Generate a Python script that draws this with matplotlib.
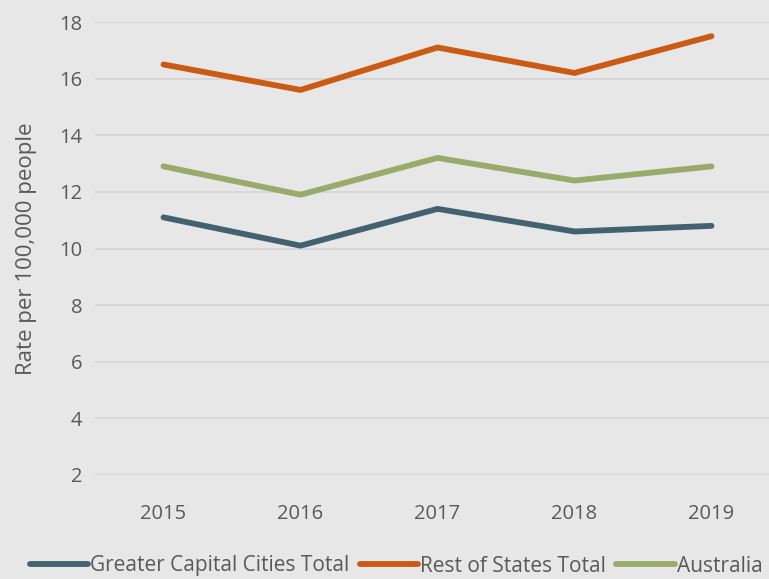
import matplotlib
matplotlib.use("Agg")
import matplotlib.pyplot as plt

years = ["2015", "2016", "2017", "2018", "2019"]
capital = [11.1, 10.1, 11.4, 10.6, 10.8]
rest = [16.5, 15.6, 17.1, 16.2, 17.5]
australia = [12.9, 11.9, 13.2, 12.4, 12.9]
yticks = [2, 4, 6, 8, 10, 12, 14, 16, 18]

bg = "#e7e7e7"
txt = "#595959"
plt.rcParams["font.family"] = ["Open Sans", "DejaVu Sans"]

fig = plt.figure(figsize=(7.69, 5.79), dpi=100, facecolor=bg)
ax = fig.add_axes([95 / 769, 1 - 475 / 579, 685 / 769, 453 / 579])
ax.set_facecolor(bg)

x = range(len(years))
ax.plot(x, capital, color="#43616f", lw=4.2, solid_capstyle="round", label="Greater Capital Cities Total")
ax.plot(x, rest, color="#cb5b14", lw=4.2, solid_capstyle="round", label="Rest of States Total")
ax.plot(x, australia, color="#9aaa6b", lw=4.2, solid_capstyle="round", label="Australia")

ax.set_xlim(-0.5, 4.5)
ax.set_ylim(2, 18)
ax.set_yticks(yticks)
ax.set_xticks(list(x))
ax.set_xticklabels(years)
ax.grid(axis="y", color="#d6d6d6", lw=1.3)
ax.set_axisbelow(True)
for s in ax.spines.values():
    s.set_visible(False)
ax.tick_params(length=0, colors=txt, labelsize=14.5)
ax.tick_params(axis="x", pad=21)
ax.tick_params(axis="y", pad=9)
ax.set_ylabel("Rate per 100,000 people", color=txt, fontsize=16)
ax.yaxis.set_label_coords(-0.085, 0.5)

leg = fig.legend(loc="center", bbox_to_anchor=(0.515, 1 - 566 / 579), ncol=3, frameon=False,
                 fontsize=15, handlelength=2.8, handletextpad=0.1, columnspacing=0.5, labelcolor=txt)

fig.savefig("out.png", dpi=100, facecolor=bg)
